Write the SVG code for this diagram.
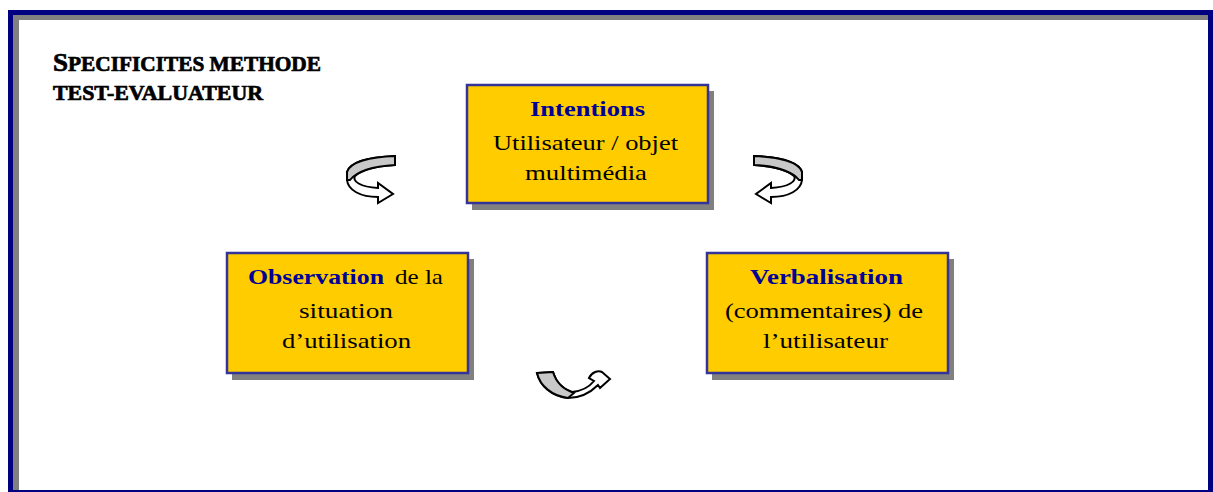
<svg xmlns="http://www.w3.org/2000/svg" width="1213" height="492" viewBox="0 0 1213 492">
<defs>
<style>
.box{fill:#FFCC00;stroke:#333399;stroke-width:2.5}
.shadow{fill:#808080}
.t{font-family:"Liberation Serif","Times New Roman",serif;font-size:22px;fill:#000;text-anchor:middle}
.b{font-weight:bold;fill:#000099}
.title{font-family:"Liberation Serif","Times New Roman",serif;font-weight:900;fill:#000;stroke:#000;stroke-width:0.7}
.arw{fill:#fff;stroke:#000;stroke-width:2;stroke-linejoin:miter}
.face{fill:#C8C8C8;stroke:#000;stroke-width:2;stroke-linejoin:miter}
</style>
<g id="curlL">
<path class="arw" d="M395,156 L395,165 C378,166 362,170 355,176 C352,181 360,187 378,188 L378,183 L393,194 L378,203 L378,197 C360,197 348,190 347,180 L347,172 C350,162 370,157 395,156 Z"/>
<path class="face" d="M395,156 L395,165 C377,166 358,170 350,180 L347,180 L347,172 C350,162 370,157 395,156 Z"/>
</g>
</defs>
<rect x="8" y="10" width="1205" height="482" fill="#000080"/>
<rect x="13" y="15" width="1195" height="475" fill="#808080"/>
<rect x="19" y="20" width="1189" height="470" fill="#ffffff"/>

<g id="title">
<text class="title" x="53" y="71" font-size="25" textLength="15" lengthAdjust="spacingAndGlyphs">S</text>
<text class="title" x="68" y="71" font-size="21" textLength="253" lengthAdjust="spacingAndGlyphs">PECIFICITES METHODE</text>
<text class="title" x="53" y="100" font-size="21" textLength="210" lengthAdjust="spacingAndGlyphs">TEST-EVALUATEUR</text>
</g>

<g id="connectors">
<use href="#curlL"/>
<use href="#curlL" transform="translate(1149,0) scale(-1,1)"/>
<g id="curlBottom">
<path class="arw" d="M537,373 L553,372 C556,382 562,389 572,392 C582,391 590,386 594,381 L589,378 C592,372 598,370 602,372 L610,379 L600,388 L598,385 C590,393 580,398 568,398 C552,396 540,386 537,373 Z"/>
<path class="face" d="M537,373 L553,372 C556,382 562,389 574,393 L568,398 C552,396 540,386 537,373 Z"/>
</g>
</g>

<g id="intentions">
<rect class="shadow" x="472" y="91" width="242" height="119"/>
<rect class="box" x="467" y="85" width="241" height="118"/>
<text class="t b" x="587.5" y="116" textLength="115" lengthAdjust="spacingAndGlyphs">Intentions</text>
<text class="t" x="585.5" y="150" textLength="185" lengthAdjust="spacingAndGlyphs">Utilisateur / objet</text>
<text class="t" x="586" y="180" textLength="122" lengthAdjust="spacingAndGlyphs">multimédia</text>
</g>

<g id="observation">
<rect class="shadow" x="232" y="259" width="242" height="121"/>
<rect class="box" x="227" y="253" width="241" height="120"/>
<text class="t b" x="316" y="284" textLength="136" lengthAdjust="spacingAndGlyphs">Observation</text>
<text class="t" x="419" y="284" textLength="48" lengthAdjust="spacingAndGlyphs">de la</text>
<text class="t" x="346" y="318" textLength="94" lengthAdjust="spacingAndGlyphs">situation</text>
<text class="t" x="346.5" y="348" textLength="129" lengthAdjust="spacingAndGlyphs">d’utilisation</text>
</g>

<g id="verbalisation">
<rect class="shadow" x="712" y="259" width="242" height="121"/>
<rect class="box" x="707" y="253" width="241" height="120"/>
<text class="t b" x="826.5" y="284" textLength="153" lengthAdjust="spacingAndGlyphs">Verbalisation</text>
<text class="t" x="824" y="318" textLength="198" lengthAdjust="spacingAndGlyphs">(commentaires) de</text>
<text class="t" x="825.5" y="348" textLength="125" lengthAdjust="spacingAndGlyphs">l’utilisateur</text>
</g>
</svg>
